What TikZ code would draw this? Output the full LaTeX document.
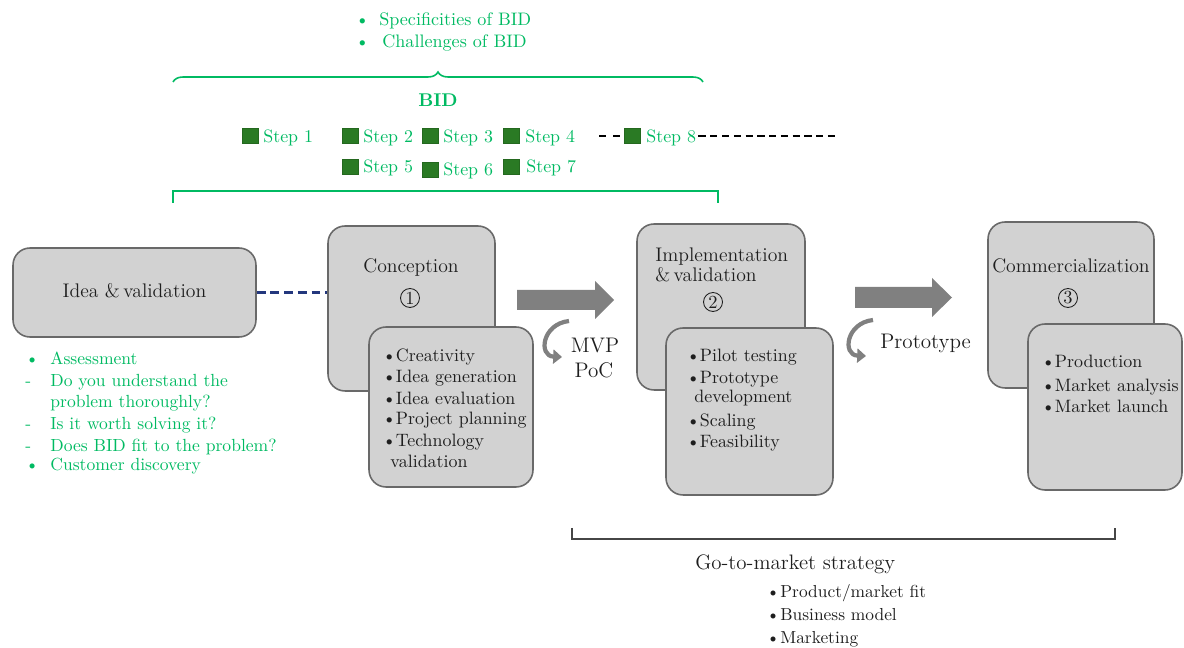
\documentclass[tikz,border=0pt]{standalone}
\usepackage{fontspec}
\usetikzlibrary{arrows.meta,decorations.pathreplacing}
\definecolor{bidgreen}{RGB}{0,186,98}
\definecolor{sqgreen}{RGB}{42,122,36}
\definecolor{boxfill}{RGB}{210,210,210}
\definecolor{boxline}{RGB}{105,105,105}
\definecolor{arrowgray}{RGB}{128,128,128}
\definecolor{navyline}{RGB}{35,55,125}
\definecolor{ink}{RGB}{30,30,30}
\definecolor{brgray}{RGB}{70,70,70}
\newcommand\fs[1]{\fontsize{#1}{#1}\selectfont}
\newcommand\bl[2]{\makebox[#1][l]{#2}}
\begin{document}
\begin{tikzpicture}[x=0.02cm,y=-0.02cm,
  box/.style={draw=boxline, fill=boxfill, line width=0.9pt, rounded corners=0.34cm, inner sep=0},
  txt/.style={inner sep=0, anchor=base west, text=ink},
  ctxt/.style={inner sep=0, anchor=base, text=ink},
  gtxt/.style={inner sep=0, anchor=base west, text=bidgreen},
  sq/.style={fill=sqgreen, draw=sqgreen!85!black, line width=0.3pt, minimum width=0.32cm, minimum height=0.3cm, inner sep=0, anchor=north west},
  bigarrow/.style={fill=arrowgray},
  curv/.style={draw=arrowgray, line width=2.4pt, -{Triangle[length=5pt,width=8pt]}},
  circ/.style={circle, draw=ink, line width=0.5pt, minimum size=0.38cm, inner sep=0, text=ink, font=\fs{10.5}},
  title/.style={ctxt, font=\fs{11.2}},
  item/.style={txt, font=\fs{10.2}},
  gitem/.style={gtxt, font=\fs{10}},
  stp/.style={gtxt, font=\fs{10.2}},
]
\useasboundingbox (0,0) rectangle (1184,648);

% top bullets
\node[gtxt, font=\fs{10.3}] (spec) at (355,26) {\bl{0.48cm}{\textbullet}Specificities of BID};
\node[gtxt, font=\fs{10.3}] (chal) at (355,48) {\bl{0.54cm}{\textbullet}Challenges of BID};

% brace
\coordinate (brL) at (173,82);
\coordinate (brR) at (703,82);
\draw[bidgreen, line width=0.9pt, decorate, decoration={brace, amplitude=0.2cm}] (brL) -- (brR);

\node[ctxt, text=bidgreen, font=\fs{10.5}\bfseries] (bid) at (438,107) {BID};

% steps
\node[sq] (s1) at (242,128) {};
\node[stp] (t1) at (263,143) {Step 1};
\node[sq] (s2) at (342,128) {};
\node[stp] (t2) at (363,143) {Step 2};
\node[sq] (s3) at (422,128) {};
\node[stp] (t3) at (443,143) {Step 3};
\node[sq] (s4) at (503,128) {};
\node[stp] (t4) at (525,143) {Step 4};
\node[sq] (s8) at (624,128) {};
\node[stp] (t8) at (646,143) {Step 8};
\node[sq] (s5) at (342,159) {};
\node[stp] (t5) at (363,173) {Step 5};
\node[sq] (s6) at (422,162) {};
\node[stp] (t6) at (443,176) {Step 6};
\node[sq] (s7) at (503,159) {};
\node[stp] (t7) at (526,173) {Step 7};
\coordinate (d8a) at (599,136);
\coordinate (d8b) at (838,136);
\draw[black, line width=1.1pt, dash pattern=on 4pt off 4pt] (d8a) -- (s8.west |- d8a);
\draw[black, line width=1.1pt, dash pattern=on 4.1pt off 2.6pt] (t8.east |- d8b) ++(2,0) -- (d8b);

% green bracket
\coordinate (gbL) at (173,203);
\coordinate (gbR) at (718,203);
\draw[bidgreen, line width=1pt] (gbL) -- (173,191) -- (718,191) -- (gbR);

% idea box
\node[box, minimum width=4.86cm, minimum height=1.78cm] (idea) at (134.5,292.5) {};
\node[title] (ideat) at (134.5,298) {Idea \&\,validation};

% green list
\node[gitem] (g1) at (25,365) {\bl{0.5cm}{\textbullet}Assessment};
\node[gitem] (g2) at (25,387) {\bl{0.5cm}{-}Do you understand the};
\node[gitem] (g3) at (50,408) {problem thoroughly?};
\node[gitem] (g4) at (25,430) {\bl{0.5cm}{-}Is it worth solving it?};
\node[gitem] (g5) at (25,452) {\bl{0.5cm}{-}Does BID fit to the problem?};
\node[gitem] (g6) at (25,471) {\bl{0.5cm}{\textbullet}Customer discovery};

% conception
\node[box, minimum width=3.34cm, minimum height=3.3cm] (conb) at (411.5,308.5) {};
\node[title] (cont) at (411,273) {Conception};
\node[circ] (c1) at (410,298) {1};
\node[box, minimum width=3.28cm, minimum height=3.2cm] (conf) at (451,407) {};
\node[item] (ci1) at (382,362) {\bl{0.27cm}{\textbullet}Creativity};
\node[item] (ci2) at (382,383) {\bl{0.27cm}{\textbullet}Idea generation};
\node[item] (ci3) at (382,405) {\bl{0.27cm}{\textbullet}Idea evaluation};
\node[item] (ci4) at (382,425) {\bl{0.27cm}{\textbullet}Project planning};
\node[item] (ci5) at (382,447) {\bl{0.27cm}{\textbullet}Technology};
\node[item] (ci6) at (390,468) {validation};

% dashed link
\draw[navyline, line width=1.2pt, dash pattern=on 5pt off 2.8pt] (idea.east) -- (idea.east -| conb.west);

% arrow 1
\fill[bigarrow] (517,290) -- (595,290) -- (595,281) -- (614,300) -- (595,319) -- (595,310) -- (517,310) -- cycle;
\coordinate (ca1) at (569,321);
\coordinate (cb1) at (562,357);
\draw[curv] (ca1) .. controls (542,324) and (538,356) .. (cb1);
\node[ctxt, font=\fs{12}] (mvp) at (595,353) {MVP};
\node[ctxt, font=\fs{12}] (poc) at (594,378) {PoC};

% implementation
\node[box, minimum width=3.36cm, minimum height=3.32cm] (impb) at (721,307) {};
\node[txt, font=\fs{11.2}] (impt1) at (655,262) {Implementation};
\node[txt, font=\fs{11.2}] (impt2) at (655,282) {\&\,validation};
\node[circ] (c2) at (713,302) {2};
\node[box, minimum width=3.34cm, minimum height=3.34cm] (impf) at (749.5,411.5) {};
\node[item] (ii1) at (686,362) {\bl{0.27cm}{\textbullet}Pilot testing};
\node[item] (ii2) at (686,384) {\bl{0.27cm}{\textbullet}Prototype};
\node[item] (ii3) at (694,403) {development};
\node[item] (ii4) at (686,427) {\bl{0.27cm}{\textbullet}Scaling};
\node[item] (ii5) at (686,448) {\bl{0.27cm}{\textbullet}Feasibility};

% arrow 2
\fill[bigarrow] (855,287) -- (932,287) -- (932,278) -- (952,297.5) -- (932,317) -- (932,308) -- (855,308) -- cycle;
\coordinate (ca2) at (873,320);
\coordinate (cb2) at (866,356);
\draw[curv] (ca2) .. controls (846,323) and (842,355) .. (cb2);
\node[txt, font=\fs{12}] (proto) at (880,349) {Prototype};

% commercialization
\node[box, minimum width=3.32cm, minimum height=3.32cm] (comb) at (1071,305) {};
\node[title] (comt) at (1071,273) {Commercialization};
\node[circ] (c3) at (1068,298) {3};
\node[box, minimum width=3.08cm, minimum height=3.32cm] (comf) at (1105,407) {};
\node[item] (mi1) at (1041,368) {\bl{0.27cm}{\textbullet}Production};
\node[item] (mi2) at (1041,392) {\bl{0.27cm}{\textbullet}Market analysis};
\node[item] (mi3) at (1041,413) {\bl{0.27cm}{\textbullet}Market launch};

% bottom bracket
\coordinate (bbL) at (572,528);
\coordinate (bbR) at (1115,528);
\draw[brgray, line width=0.8pt] (bbL) -- (572,539) -- (1115,539) -- (bbR);
\node[txt, font=\fs{11.9}] (gtm) at (695,570) {Go-to-market strategy};
\node[txt, font=\fs{9.9}] (b1) at (766,598) {\bl{0.28cm}{\textbullet}Product/market fit};
\node[txt, font=\fs{9.9}] (b2) at (766,621) {\bl{0.28cm}{\textbullet}Business model};
\node[txt, font=\fs{9.9}] (b3) at (766,643) {\bl{0.28cm}{\textbullet}Marketing};
\end{tikzpicture}
\end{document}
